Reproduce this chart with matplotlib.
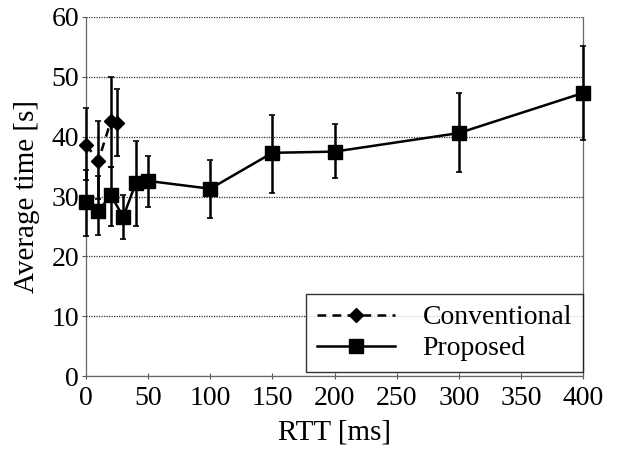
import matplotlib
matplotlib.use("Agg")
import matplotlib.pyplot as plt
import numpy as np

# Data
conv_x = [0, 10, 20, 25]
conv_y = [38.6, 36.0, 42.6, 42.3]
conv_lo = [32.7, 29.5, 35.0, 36.7]
conv_hi = [44.8, 42.6, 49.9, 48.0]

prop_x = [0, 10, 20, 30, 40, 50, 100, 150, 200, 300, 400]
prop_y = [29.1, 27.6, 30.2, 26.6, 32.2, 32.6, 31.3, 37.3, 37.5, 40.6, 47.3]
prop_lo = [23.4, 23.6, 25.0, 22.9, 25.0, 28.3, 26.4, 30.6, 33.1, 34.1, 39.5]
prop_hi = [34.5, 33.5, 35.0, 30.3, 39.2, 36.8, 36.1, 43.6, 42.1, 47.3, 55.1]

x_ticks = [0, 50, 100, 150, 200, 250, 300, 350, 400]
y_ticks = [0, 10, 20, 30, 40, 50, 60]

plt.rcParams['font.family'] = ['Liberation Serif', 'DejaVu Serif']

fig = plt.figure(figsize=(6.24, 4.5), dpi=100)
ax = fig.add_axes([86/624, 1-376/450, (583-86)/624, (376-17)/450])

def yerr(y, lo, hi):
    y = np.array(y); lo = np.array(lo); hi = np.array(hi)
    return np.vstack([y - lo, hi - y])

for xs, ys, lo, hi in [(conv_x, conv_y, conv_lo, conv_hi), (prop_x, prop_y, prop_lo, prop_hi)]:
    eb = ax.errorbar(xs, ys, yerr=yerr(ys, lo, hi), fmt='none', ecolor='black',
                     capsize=2, elinewidth=1.8, capthick=1.2, zorder=3)
    for art in eb.lines[1] + eb.lines[2]:
        art.set_clip_on(False)

ax.plot(conv_x, conv_y, color='black', linestyle=(0, (3.5, 2.5)), linewidth=1.8,
        marker='D', markersize=7, label='Conventional', zorder=4, clip_on=False)
ax.plot(prop_x, prop_y, color='black', linestyle='-', linewidth=1.8,
        marker='s', markersize=9.5, label='Proposed', zorder=4, clip_on=False)

ax.set_xlim(0, 400)
ax.set_ylim(0, 60)
ax.set_xticks(x_ticks)
ax.set_yticks(y_ticks)
ax.yaxis.grid(True, linestyle=(0, (1, 1)), color='#333333', linewidth=0.9)
for side in ['left', 'bottom', 'right', 'top']:
    ax.spines[side].set_linestyle((0, (1, 1)))
    ax.spines[side].set_color('#666666')
    ax.spines[side].set_linewidth(0.9)
ax.spines['top'].set_visible(False)
ax.tick_params(axis='both', labelsize=20, length=3, width=0.8, color='#555555', pad=2)
ax.tick_params(axis='x', direction='inout', length=4, pad=5)

ax.set_xlabel('RTT [ms]', fontsize=21, labelpad=6)
ax.set_ylabel('Average time [s]', fontsize=21, labelpad=8)

leg = ax.legend(loc='lower right', bbox_to_anchor=(1.0, 0.01), fontsize=20,
                frameon=True, fancybox=False, edgecolor='black', handlelength=2.8,
                borderpad=0.4, labelspacing=0.2, handletextpad=1.0, borderaxespad=0.0)
leg.get_frame().set_linewidth(1.0)

fig.savefig('out.png', dpi=100)
